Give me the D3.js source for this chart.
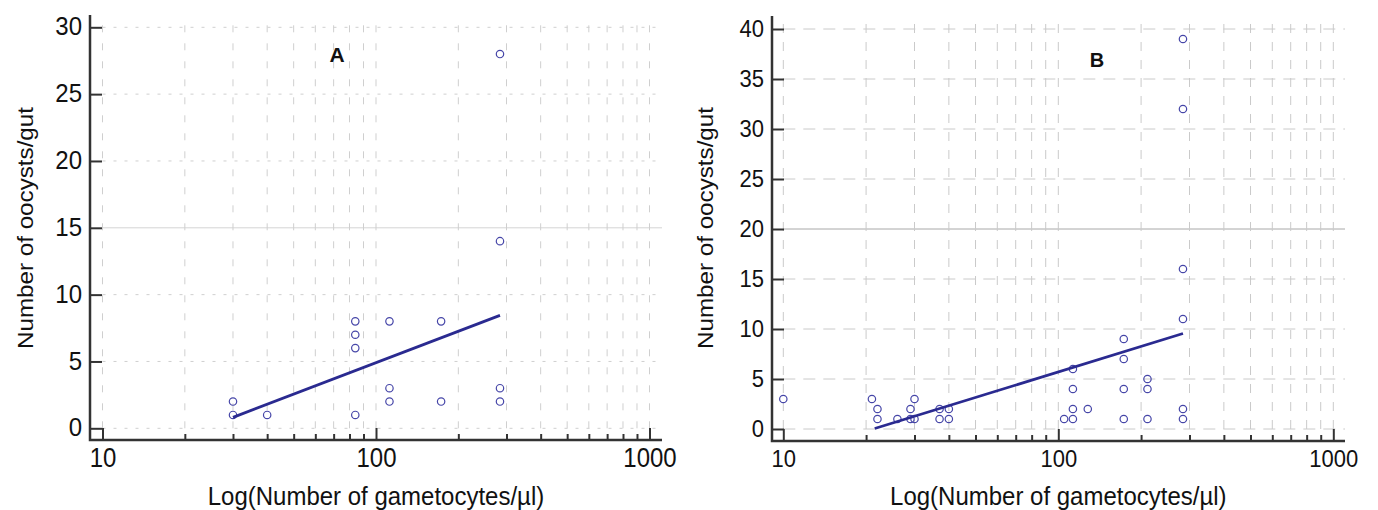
<!DOCTYPE html>
<html>
<head>
<meta charset="utf-8">
<script src="https://cdn.jsdelivr.net/npm/d3@7"></script>
<style>
  body { margin: 0; background: #fff; }
  text { font-family: "Liberation Sans", Arial, sans-serif; fill: #111; }
</style>
</head>
<body>
<div id="canvas"></div>
<script>
// data
var xTicks = [10, 20, 30, 40, 50, 60, 70, 80, 90, 100, 200, 300, 400, 500, 600, 700, 800, 900, 1000];
var xMajor = [10, 100, 1000];
var yTicksA = [0, 5, 10, 15, 20, 25, 30];
var yTicksB = [0, 5, 10, 15, 20, 25, 30, 35, 40];

var gamA = [30, 30, 40, 84, 84, 84, 84, 112, 112, 112, 173, 173, 284, 284, 284, 284];
var oocA = [2, 1, 1, 8, 7, 6, 1, 8, 3, 2, 8, 2, 28, 14, 3, 2];
var fitA = [[30, 0.82], [284, 8.45]];

var gamB = [10, 21, 22, 22, 26, 29, 29, 30, 30, 37, 37, 40, 40, 105,
            113, 113, 113, 113, 128, 173, 173, 173, 173, 211, 211, 211,
            284, 284, 284, 284, 284, 284];
var oocB = [3, 3, 2, 1, 1, 2, 1, 3, 1, 2, 1, 2, 1, 1,
            6, 4, 2, 1, 2, 9, 7, 4, 1, 5, 4, 1,
            39, 32, 16, 11, 2, 1];
var fitB = [[21.5, 0.05], [284, 9.55]];

var xTitle = "Log(Number of gametocytes/\u00b5l)";
var yTitle = "Number of oocysts/gut";

var w = 1378, h = 510;
var svg = d3.select("#canvas").append("svg").attr("width", w).attr("height", h);

function drawPanel(p) {
  var g = svg.append("g");
  var x = d3.scaleLog().domain([10, 1000]).range([p.x0, p.x1]);
  var y = d3.scaleLinear().domain([0, p.yMax]).range([p.y0, p.y1]);

  // grid
  g.selectAll(".hg").data(p.yTicks).enter().append("line")
    .attr("x1", p.x0).attr("x2", p.axRight)
    .attr("y1", function(d) { return y(d); }).attr("y2", function(d) { return y(d); })
    .style("stroke", function(d) { return d == p.solidAt ? "#a8a8a8" : p.gridCol; })
    .style("stroke-width", 1)
    .style("stroke-dasharray", function(d) { return d == p.solidAt ? p.solidDash : p.hDash; });
  g.selectAll(".vg").data(xTicks).enter().append("line")
    .attr("x1", function(d) { return x(d); }).attr("x2", function(d) { return x(d); })
    .attr("y1", p.y0).attr("y2", p.axTop)
    .style("stroke", p.gridCol)
    .style("stroke-width", 1)
    .style("stroke-dasharray", p.vDash);

  // axes
  var yAxis = d3.axisLeft(y).tickValues(p.yTicks).tickSize(-12).tickPadding(8);
  var ya = g.append("g").attr("transform", "translate(" + p.axLeft + ",0)").call(yAxis);
  ya.select(".domain").remove();
  ya.selectAll("line").style("stroke", "#333").style("stroke-width", 2);
  ya.selectAll("text").style("font-size", p.tickFont + "px").style("fill", "#111")
    .attr("transform", "scale(1," + p.tickStretch + ")")
    .attr("dy", (0.32 / p.tickStretch) + "em");

  var xMinor = d3.axisBottom(x).tickValues(xTicks.filter(function(d) { return xMajor.indexOf(d) < 0; }))
    .tickSize(-6).tickFormat("");
  var xm = g.append("g").attr("transform", "translate(0," + p.axBottom + ")").call(xMinor);
  xm.select(".domain").remove();
  xm.selectAll("line").style("stroke", "#333").style("stroke-width", 2);

  var xAxis = d3.axisBottom(x).tickValues(xMajor).tickSize(-12).tickPadding(p.xPad).tickFormat(d3.format("d"));
  var xa = g.append("g").attr("transform", "translate(0," + p.axBottom + ")").call(xAxis);
  xa.select(".domain").remove();
  xa.selectAll("line").style("stroke", "#333").style("stroke-width", 2);
  xa.selectAll("text").style("font-size", p.xTickFont + "px").style("fill", "#111")
    .attr("transform", "scale(1," + p.xStretch + ")");

  g.append("path")
    .attr("d", "M" + p.axLeft + "," + p.axTop + "V" + p.axBottom + "H" + p.axRight)
    .style("fill", "none").style("stroke", "#333").style("stroke-width", 2.5);

  // points
  g.selectAll("circle").data(p.gx).enter().append("circle")
    .attr("cx", function(d) { return x(d); })
    .attr("cy", function(d, i) { return y(p.gy[i]); })
    .attr("r", 3.7)
    .style("fill", "none").style("stroke", "#4646a8").style("stroke-width", 1.2);

  // fitted line
  var line = d3.line().x(function(d) { return x(d[0]); }).y(function(d) { return y(d[1]); });
  g.append("path").datum(p.fit).attr("d", line)
    .style("fill", "none").style("stroke", "#2a2a90").style("stroke-width", 2.8);

  // titles
  g.append("text").attr("x", p.labelX).attr("y", p.labelY).attr("text-anchor", "middle")
    .style("font-weight", "bold").style("font-size", p.labelFont + "px").text(p.label);
  g.append("text").attr("text-anchor", "middle")
    .attr("transform", "translate(" + ((p.x0 + p.x1) / 2) + "," + p.xTitleY + ") scale(1,1.1)")
    .style("font-size", p.titleFont + "px").text(xTitle);
  g.append("text").attr("transform", "translate(" + p.yTitleX + "," + p.yTitleY + ") rotate(-90) scale(1.1,1)")
    .attr("text-anchor", "middle").style("font-size", p.yTitleFont + "px").text(yTitle);
}

drawPanel({
  x0: 102.5, x1: 649.5, y0: 428.3, y1: 27.3, yMax: 30, yTicks: yTicksA,
  axLeft: 90, axTop: 15, axBottom: 440, axRight: 662,
  gx: gamA, gy: oocA, fit: fitA, gridCol: "#cfcfcf",
  hDash: "3,8", vDash: "7,11", solidAt: 15, solidDash: "1,1",
  tickFont: 24, tickStretch: 1.06, xTickFont: 24, xStretch: 1.14, xPad: 7,
  label: "A", labelX: 337, labelY: 62, labelFont: 21,
  titleFont: 24, yTitleFont: 22, xTitleY: 505, yTitleX: 33, yTitleY: 228
});

drawPanel({
  x0: 783.3, x1: 1333.3, y0: 429, y1: 29, yMax: 40, yTicks: yTicksB,
  axLeft: 772, axTop: 16, axBottom: 441, axRight: 1345,
  gx: gamB, gy: oocB, fit: fitB, gridCol: "#cacaca",
  hDash: "12,8", vDash: "9,9", solidAt: 20, solidDash: null,
  tickFont: 22, tickStretch: 1.06, xTickFont: 22, xStretch: 1.08, xPad: 8,
  label: "B", labelX: 1097, labelY: 67, labelFont: 20,
  titleFont: 24, yTitleFont: 22, xTitleY: 505, yTitleX: 713, yTitleY: 228
});
</script>
</body>
</html>
